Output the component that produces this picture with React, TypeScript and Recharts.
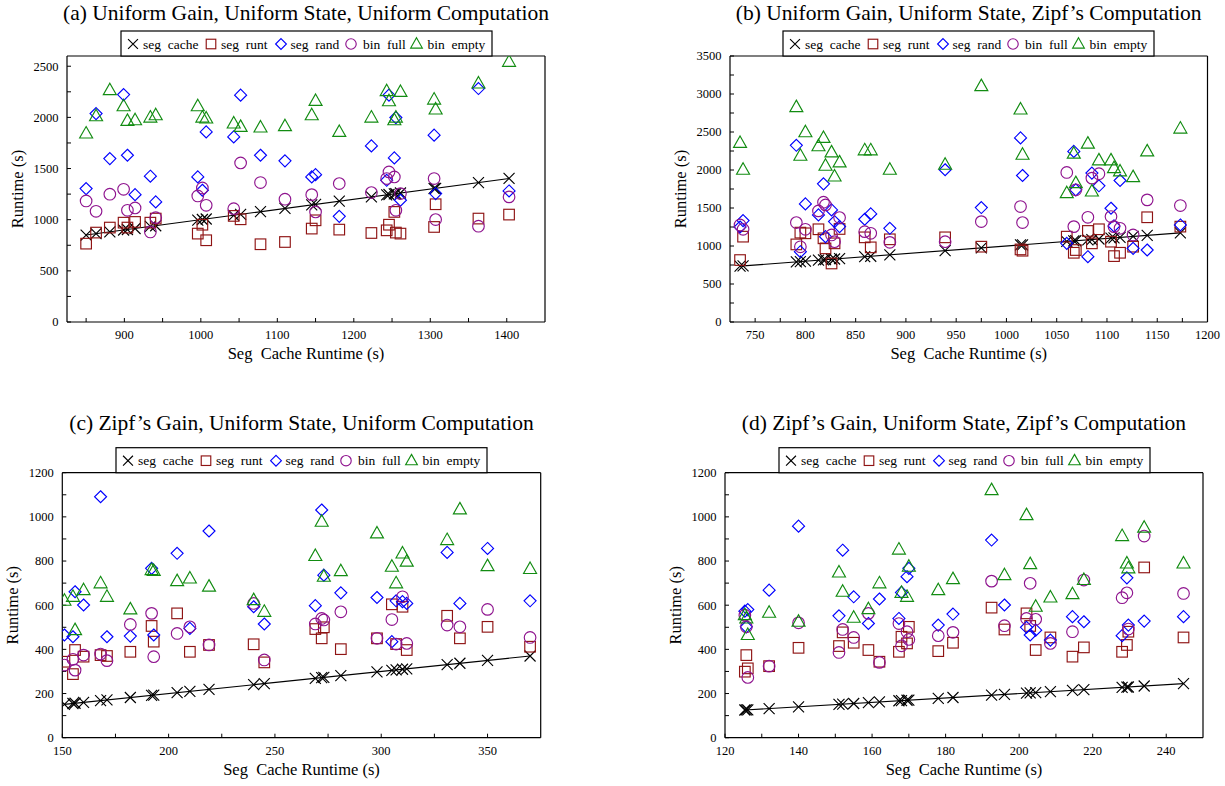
import React from 'react';
import { ScatterChart, Scatter, XAxis, YAxis } from 'recharts';

// ---------------- data ----------------
// (a) Uniform Gain, Uniform State, Uniform Computation
const A_SEG_CACHE = [850, 863, 881, 899, 904, 914, 934, 941, 996, 1002, 1007, 1043, 1052, 1078, 1110, 1145, 1150, 1181, 1223, 1243, 1246, 1253, 1255, 1261, 1305, 1307, 1363, 1403];
const A_SEG_RUNT = [766, 874, 923, 971, 923, 978, 971, 1011, 864, 951, 799, 1037, 1004, 760, 782, 913, 994, 903, 870, 896, 951, 1076, 874, 864, 929, 1151, 1011, 1050];
const A_SEG_RAND = [1304, 2037, 1597, 2223, 1630, 1245, 1425, 1174, 1418, 1288, 1858, 1809, 2217, 1630, 1575, 1418, 1440, 1033, 1721, 1385, 2217, 1604, 1998, 1190, 1826, 1255, 2282, 1281];
const A_BIN_FULL = [1183, 1082, 1249, 1297, 1092, 1115, 880, 1020, 1232, 1310, 1141, 1108, 1555, 1363, 1200, 1245, 1076, 1353, 1265, 1402, 1467, 1418, 1092, 1255, 1402, 1001, 936, 1223];
const A_BIN_EMPTY = [1842, 2011, 2266, 2109, 1966, 1972, 1998, 2021, 2109, 1998, 1989, 1940, 1907, 1901, 1914, 2021, 2161, 1858, 1998, 2256, 2158, 1972, 1998, 2249, 2174, 2077, 2331, 2543];
const A_X_TICKS = [850, 900, 950, 1000, 1050, 1100, 1150, 1200, 1250, 1300, 1350, 1400];
const A_X_TICK_LABELS = [900, 1000, 1100, 1200, 1300, 1400];
const A_Y_TICKS = [0, 250, 500, 750, 1000, 1250, 1500, 1750, 2000, 2250, 2500];
const A_Y_TICK_LABELS = [0, 500, 1000, 1500, 2000, 2500];

// (b) Uniform Gain, Uniform State, Zipf's Computation
const B_SEG_CACHE = [735, 738, 791, 795, 800, 813, 818, 820, 826, 829, 834, 859, 865, 884, 939, 975, 1014, 1016, 1060, 1067, 1069, 1081, 1085, 1092, 1104, 1107, 1113, 1126, 1140, 1173];
const B_SEG_RUNT = [815, 1123, 1021, 1176, 1167, 1220, 1101, 969, 770, 1035, 1224, 1114, 982, 1088, 1114, 991, 955, 938, 1123, 911, 947, 1198, 1035, 1220, 1057, 867, 911, 991, 1378, 1255];
const B_SEG_RAND = [1250, 1334, 2325, 925, 1554, 1409, 1818, 1123, 1475, 1321, 1255, 1352, 1422, 1233, 2003, 1506, 2422, 1928, 1035, 2245, 1739, 859, 1959, 1792, 1497, 1264, 1862, 969, 947, 1277];
const B_BIN_FULL = [1277, 1220, 1308, 990, 1220, 1462, 1576, 1541, 1145, 1057, 1374, 1189, 1167, 1048, 1057, 1321, 1519, 1308, 1968, 1255, 1739, 1378, 1893, 1951, 1387, 1255, 1233, 1145, 1607, 1532];
const B_BIN_EMPTY = [2356, 2003, 2827, 2188, 2497, 2312, 2422, 2056, 2232, 1915, 2100, 2259, 2259, 2003, 2069, 3104, 2796, 2201, 1695, 2215, 1827, 2347, 1717, 2127, 2127, 2025, 1981, 1906, 2245, 2545];
const B_X_TICKS = [750, 775, 800, 825, 850, 875, 900, 925, 950, 975, 1000, 1025, 1050, 1075, 1100, 1125, 1150, 1175, 1200];
const B_X_TICK_LABELS = [750, 800, 850, 900, 950, 1000, 1050, 1100, 1150, 1200];
const B_Y_TICKS = [0, 250, 500, 750, 1000, 1250, 1500, 1750, 2000, 2250, 2500, 2750, 3000, 3250, 3500];
const B_Y_TICK_LABELS = [0, 500, 1000, 1500, 2000, 2500, 3000, 3500];

// (c) Zipf's Gain, Uniform State, Uniform Computation
const C_SEG_CACHE = [151, 155, 156, 160, 168, 171, 182, 192, 193, 204, 210, 219, 240, 245, 269, 272, 273, 281, 298, 305, 307, 310, 312, 331, 337, 350, 370];
const C_SEG_RUNT = [344, 288, 397, 367, 374, 370, 389, 506, 435, 563, 389, 420, 423, 341, 492, 450, 500, 401, 450, 604, 424, 593, 397, 552, 450, 502, 412];
const C_SEG_RAND = [465, 457, 661, 601, 1091, 457, 460, 767, 465, 835, 495, 936, 593, 515, 598, 1031, 736, 656, 635, 435, 620, 616, 608, 839, 608, 857, 620];
const C_BIN_FULL = [329, 355, 306, 374, 379, 349, 513, 563, 367, 472, 502, 420, 608, 352, 515, 540, 533, 570, 450, 535, 424, 638, 427, 510, 502, 581, 454];
const C_BIN_EMPTY = [620, 638, 487, 668, 699, 638, 581, 759, 755, 709, 721, 684, 623, 570, 823, 978, 729, 754, 925, 774, 699, 834, 797, 895, 1034, 777, 764];
const C_X_TICKS = [150, 175, 200, 225, 250, 275, 300, 325, 350];
const C_X_TICK_LABELS = [150, 200, 250, 300, 350];
const C_Y_TICKS = [0, 100, 200, 300, 400, 500, 600, 700, 800, 900, 1000, 1100, 1200];
const C_Y_TICK_LABELS = [0, 200, 400, 600, 800, 1000, 1200];

// (d) Zipf's Gain, Uniform State, Zipf's Computation
const D_SEG_CACHE = [125.4, 125.8, 126.2, 132, 140, 151, 152, 155, 159, 162, 167.3, 168, 169.5, 170, 178, 182, 192.5, 196, 202, 203, 204.5, 208.5, 214.5, 217.6, 228, 229.3, 229.7, 234, 244.7];
const D_SEG_RUNT = [299, 374, 314, 324, 407, 415, 477, 430, 397, 344, 389, 457, 427, 502, 392, 430, 589, 490, 563, 506, 397, 454, 367, 409, 389, 420, 480, 771, 454];
const D_SEG_RAND = [573, 502, 580, 668, 958, 552, 849, 638, 517, 628, 540, 658, 729, 767, 510, 560, 895, 601, 500, 465, 487, 442, 548, 525, 462, 724, 510, 528, 548];
const D_BIN_FULL = [555, 502, 273, 324, 520, 386, 490, 454, 563, 341, 517, 416, 480, 445, 462, 477, 709, 507, 540, 699, 536, 427, 480, 714, 634, 656, 492, 913, 653];
const D_BIN_EMPTY = [555, 540, 465, 566, 525, 748, 661, 543, 582, 699, 852, 656, 638, 774, 668, 718, 1121, 736, 1008, 786, 593, 635, 650, 714, 913, 789, 767, 951, 789];
const D_X_TICKS = [120, 130, 140, 150, 160, 170, 180, 190, 200, 210, 220, 230, 240];
const D_X_TICK_LABELS = [120, 140, 160, 180, 200, 220, 240];
const D_Y_TICKS = [0, 100, 200, 300, 400, 500, 600, 700, 800, 900, 1000, 1100, 1200];
const D_Y_TICK_LABELS = [0, 200, 400, 600, 800, 1000, 1200];

const SERIES_NAMES = ['seg  cache', 'seg  runt', 'seg  rand', 'bin  full', 'bin  empty'];
const TITLES = [
  '(a) Uniform Gain, Uniform State, Uniform Computation',
  '(b) Uniform Gain, Uniform State, Zipf\u2019s Computation',
  '(c) Zipf\u2019s Gain, Uniform State, Uniform Computation',
  '(d) Zipf\u2019s Gain, Uniform State, Zipf\u2019s Computation',
];
const X_TITLE = 'Seg  Cache Runtime (s)';
const Y_TITLE = 'Runtime (s)';

// ---------------- styling ----------------
const W = 1225;
const H = 786;
const FONT = '"Liberation Serif", "Times New Roman", Times, serif';
const KINDS = ['x', 'square', 'diamond', 'circle', 'triangle'];
const COLORS = ['#000000', '#8f1414', '#0000ff', '#8f148f', '#128c12'];

function Marker({ kind, cx, cy, color, s = 1 }: any) {
  if (cx == null || cy == null) return null;
  const sw = 1.15;
  const common = { stroke: color, strokeWidth: sw, fill: 'none' };
  if (kind === 'x') {
    const r = 5.5 * s;
    return <path d={`M${cx - r},${cy - r}L${cx + r},${cy + r}M${cx - r},${cy + r}L${cx + r},${cy - r}`} {...common} />;
  }
  if (kind === 'square') {
    const r = 5.3 * s;
    return <rect x={cx - r} y={cy - r} width={2 * r} height={2 * r} {...common} />;
  }
  if (kind === 'diamond') {
    const r = 6 * s;
    return <path d={`M${cx},${cy - r}L${cx + r},${cy}L${cx},${cy + r}L${cx - r},${cy}Z`} {...common} />;
  }
  if (kind === 'circle') {
    return <circle cx={cx} cy={cy} r={5.8 * s} {...common} />;
  }
  const hw = 6.5 * s;
  return <path d={`M${cx},${cy - 7 * s}L${cx + hw},${cy + 4.5 * s}L${cx - hw},${cy + 4.5 * s}Z`} {...common} />;
}

const toPts = (xs: number[], ys: number[]) => xs.map((x, i) => ({ x, y: ys[i] }));

const PANELS = [
  {
    left: 67, right: 545, top: 56, bottom: 322, legendLeft: 121, titleY: 20,
    xDomain: [825, 1450], yDomain: [0, 2600],
    xTicks: A_X_TICKS, xLabels: A_X_TICK_LABELS, yTicks: A_Y_TICKS, yLabels: A_Y_TICK_LABELS,
    xs: A_SEG_CACHE, ys: [A_SEG_CACHE, A_SEG_RUNT, A_SEG_RAND, A_BIN_FULL, A_BIN_EMPTY], title: TITLES[0],
  },
  {
    left: 730, right: 1207.5, top: 56, bottom: 322, legendLeft: 783, titleY: 20,
    xDomain: [725, 1200], yDomain: [0, 3500],
    xTicks: B_X_TICKS, xLabels: B_X_TICK_LABELS, yTicks: B_Y_TICKS, yLabels: B_Y_TICK_LABELS,
    xs: B_SEG_CACHE, ys: [B_SEG_CACHE, B_SEG_RUNT, B_SEG_RAND, B_BIN_FULL, B_BIN_EMPTY], title: TITLES[1],
  },
  {
    left: 62.3, right: 540.7, top: 472.7, bottom: 737.7, legendLeft: 116, titleY: 430,
    xDomain: [150, 375], yDomain: [0, 1200],
    xTicks: C_X_TICKS, xLabels: C_X_TICK_LABELS, yTicks: C_Y_TICKS, yLabels: C_Y_TICK_LABELS,
    xs: C_SEG_CACHE, ys: [C_SEG_CACHE, C_SEG_RUNT, C_SEG_RAND, C_BIN_FULL, C_BIN_EMPTY], title: TITLES[2],
  },
  {
    left: 725, right: 1203, top: 472.7, bottom: 737.7, legendLeft: 779, titleY: 430,
    xDomain: [120, 250], yDomain: [0, 1200],
    xTicks: D_X_TICKS, xLabels: D_X_TICK_LABELS, yTicks: D_Y_TICKS, yLabels: D_Y_TICK_LABELS,
    xs: D_SEG_CACHE, ys: [D_SEG_CACHE, D_SEG_RUNT, D_SEG_RAND, D_BIN_FULL, D_BIN_EMPTY], title: TITLES[3],
  },
];

const tickStyle = { fontSize: 12.5, fill: '#000', fontFamily: FONT };
const axisLine = { stroke: '#000', strokeWidth: 1.2 };
const tickLine = { stroke: '#000', strokeWidth: 1 };

function Panel({ p }: any) {
  const xf = (v: number) => (p.xLabels.includes(v) ? String(v) : '');
  const yf = (v: number) => (p.yLabels.includes(v) ? String(v) : '');
  return (
    <div style={{ position: 'absolute', left: 0, top: 0 }}>
      <ScatterChart
        width={W}
        height={H}
        margin={{ top: p.top - 1, left: p.left - 1, right: W - p.right - 1, bottom: H - p.bottom - 1 }}
      >
        <XAxis xAxisId="b" dataKey="x" type="number" domain={p.xDomain} allowDataOverflow ticks={p.xTicks}
          interval={0} height={1} tickSize={-4} tickMargin={12} tickFormatter={xf} tick={tickStyle}
          axisLine={axisLine} tickLine={tickLine} />
        <XAxis xAxisId="t" orientation="top" dataKey="x" type="number" domain={p.xDomain} allowDataOverflow ticks={p.xTicks}
          interval={0} height={1} tickSize={-4} tick={false} axisLine={axisLine} tickLine={tickLine} />
        <YAxis yAxisId="l" dataKey="y" type="number" domain={p.yDomain} allowDataOverflow ticks={p.yTicks}
          interval={0} width={1} tickSize={-4} tickMargin={12.5} tickFormatter={yf} tick={tickStyle}
          axisLine={axisLine} tickLine={tickLine} />
        <YAxis yAxisId="r" orientation="right" dataKey="y" type="number" domain={p.yDomain} allowDataOverflow ticks={p.yTicks}
          interval={0} width={1} tickSize={-4} tick={false} axisLine={axisLine} tickLine={tickLine} />
        {p.ys.map((ys: number[], si: number) => (
          <Scatter
            key={si}
            name={SERIES_NAMES[si]}
            xAxisId="b"
            yAxisId="l"
            data={toPts(p.xs, ys)}
            isAnimationActive={false}
            line={si === 0 ? { stroke: '#000', strokeWidth: 1.1 } : false}
            lineType="fitting"
            shape={(props: any) => <Marker kind={KINDS[si]} cx={props.cx} cy={props.cy} color={COLORS[si]} />}
          />
        ))}
      </ScatterChart>
    </div>
  );
}

const LEG_ICON = [12, 90, 160, 230, 295.5];
const LEG_TEXT = [22, 100, 169.5, 242, 306.5];

function Overlay() {
  return (
    <svg width={W} height={H} style={{ position: 'absolute', left: 0, top: 0, pointerEvents: 'none' }}>
      {PANELS.map((p, i) => {
        const cx = (p.left + p.right) / 2;
        const cy = (p.top + p.bottom) / 2;
        const ly = p.top - 25;
        return (
          <g key={i} fontFamily={FONT} fill="#000">
            <text x={cx} y={p.titleY} textAnchor="middle" fontSize={21.5}>{p.title}</text>
            <text x={cx} y={p.bottom + 37} textAnchor="middle" fontSize={16.5} style={{ whiteSpace: 'pre' }}>{X_TITLE}</text>
            <text x={p.left - 44} y={cy} textAnchor="middle" fontSize={16.5} transform={`rotate(-90 ${p.left - 44} ${cy})`}>{Y_TITLE}</text>
            <rect x={p.legendLeft} y={ly} width={371} height={25} fill="#fff" stroke="#000" strokeWidth={1.2} />
            {SERIES_NAMES.map((n, si) => (
              <g key={si}>
                <Marker kind={KINDS[si]} cx={p.legendLeft + LEG_ICON[si]} cy={ly + 13} color={COLORS[si]} s={0.9} />
                <text x={p.legendLeft + LEG_TEXT[si]} y={ly + 17.5} fontSize={13.5} style={{ whiteSpace: 'pre' }}>{n}</text>
              </g>
            ))}
          </g>
        );
      })}
    </svg>
  );
}

export default function App() {
  return (
    <div style={{ position: 'absolute', left: 0, top: 0, width: W, height: H, background: '#fff', fontFamily: FONT }}>
      {PANELS.map((p, i) => (
        <Panel key={i} p={p} />
      ))}
      <Overlay />
    </div>
  );
}
